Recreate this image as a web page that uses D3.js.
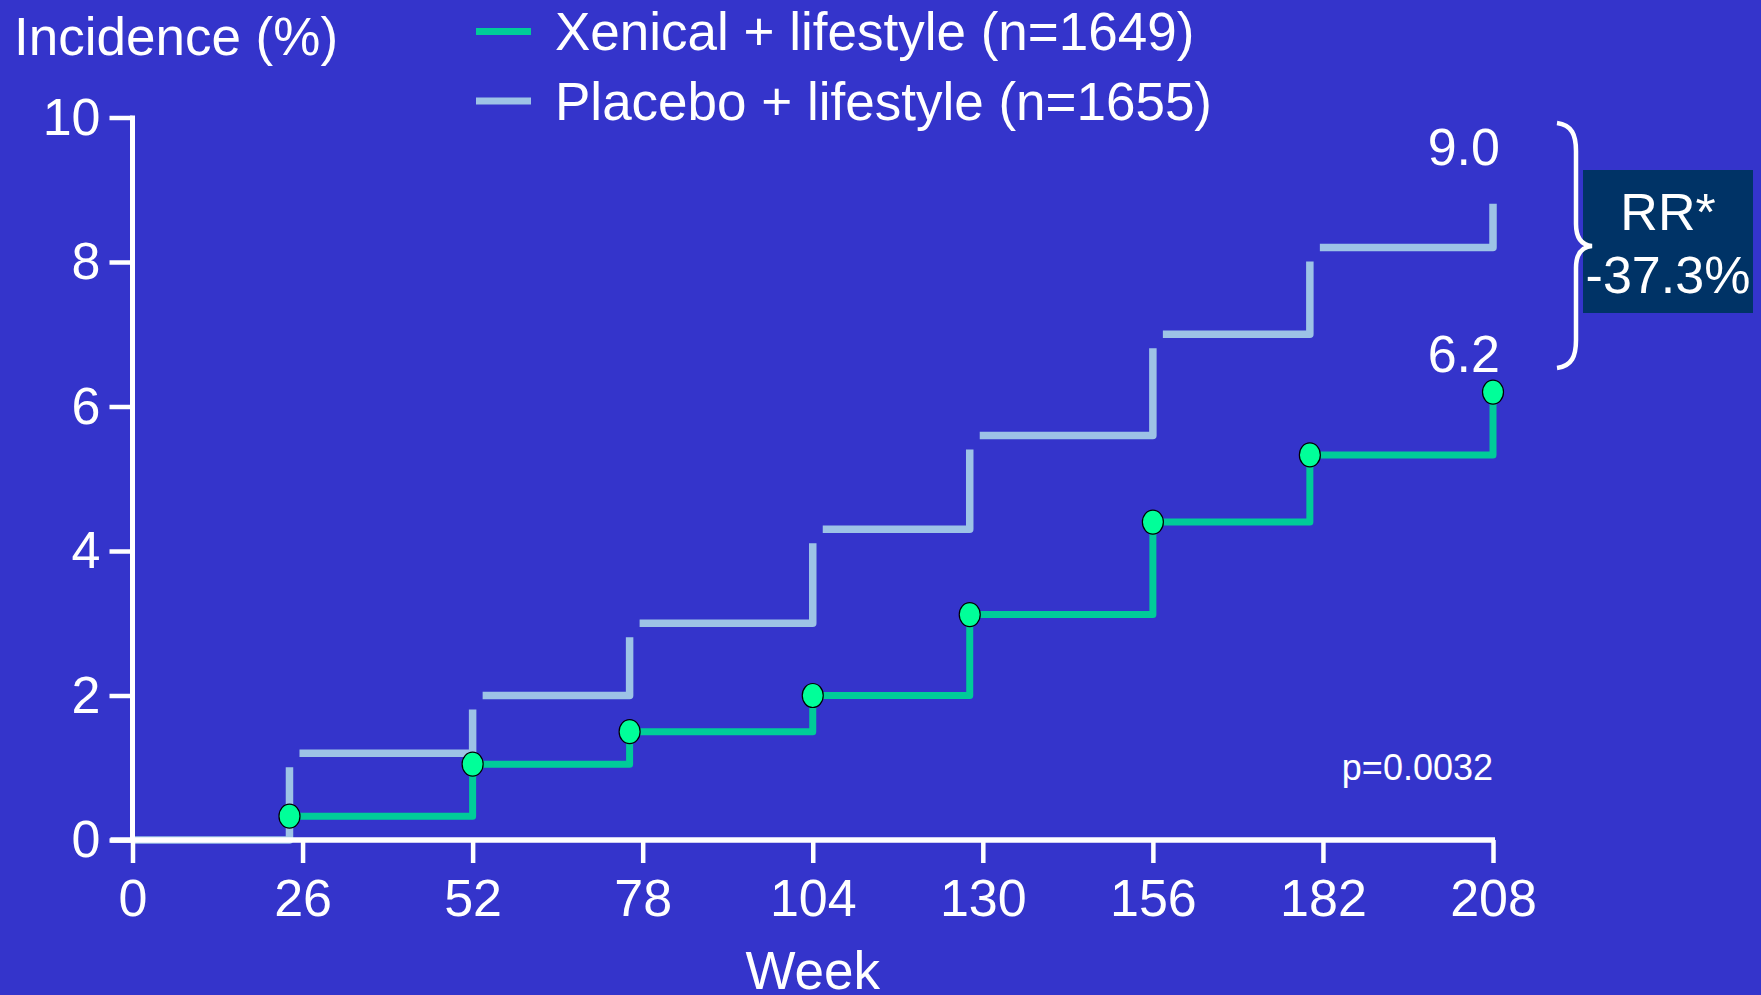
<!DOCTYPE html>
<html>
<head>
<meta charset="utf-8">
<script src="https://cdn.jsdelivr.net/npm/d3@7"></script>
<style>
  html, body { margin: 0; padding: 0; background: #3434cb; }
  svg { display: block; }
  text { font-family: "Liberation Sans", Arial, sans-serif; fill: #fff; }
</style>
</head>
<body>
<svg id="chart" width="1761" height="995"></svg>
<script>
// Cumulative incidence of type 2 diabetes by week
const weekTicks = [0, 26, 52, 78, 104, 130, 156, 182, 208];
const incidenceTicks = [0, 2, 4, 6, 8, 10];

const placeboWeeks  = [0, 24, 52, 76, 104, 128, 156, 180, 208];
const placeboValues = [0, 1.2, 2.0, 3.0, 4.3, 5.6, 7.0, 8.2, 9.0];

const xenicalWeeks  = [24, 52, 76, 104, 128, 156, 180, 208];
const xenicalValues = [0.33, 1.05, 1.5, 2.0, 3.12, 4.4, 5.33, 6.2];

const seriesNames = ["Xenical + lifestyle (n=1649)", "Placebo + lifestyle (n=1655)"];
const seriesColors = ["#00cc99", "#9dc3e6"];

const relativeRisk = ["RR*", "-37.3%"];
const pValue = "p=0.0032";

const svg = d3.select("#chart");
const W = 1761, H = 995;

svg.append("rect").attr("width", W).attr("height", H).attr("fill", "#3434cb");

const x = d3.scaleLinear().domain([0, 208]).range([132.5, 1493]);
const y = d3.scaleLinear().domain([0, 10]).range([840, 117.5]);

// Placebo: broken step segments (each tread joined to its riser only)
const hGap = 10, vGap = 14;
const placeboPieces = d3.range(placeboWeeks.length - 1).map(i => ({
  x0: x(placeboWeeks[i]) + (i > 0 ? hGap : 0),
  y0: y(placeboValues[i]),
  x1: x(placeboWeeks[i + 1]),
  y1: y(placeboValues[i + 1]) + vGap
}));
svg.append("g").selectAll("path").data(placeboPieces).join("path")
  .attr("d", d => `M${d.x0},${d.y0}H${d.x1}V${d.y1}`)
  .attr("fill", "none")
  .attr("stroke", seriesColors[1])
  .attr("stroke-width", 7.5)
  .attr("stroke-linejoin", "round");

// Xenical: step curve with a marker at each step
const xenical = xenicalWeeks.map((w, i) => ({ w, v: xenicalValues[i] }));
const stepLine = d3.line().x(d => x(d.w)).y(d => y(d.v)).curve(d3.curveStepAfter);
svg.append("path")
  .datum(xenical)
  .attr("d", stepLine)
  .attr("fill", "none")
  .attr("stroke", seriesColors[0])
  .attr("stroke-width", 7)
  .attr("stroke-linejoin", "round");

svg.append("g").selectAll("ellipse").data(xenical).join("ellipse")
  .attr("cx", d => x(d.w))
  .attr("cy", d => y(d.v))
  .attr("rx", 10.5)
  .attr("ry", 12)
  .attr("fill", "#00ff99")
  .attr("stroke", "#000")
  .attr("stroke-width", 1.2);

// Axes
const axisColor = "#fff";
const xAxis = d3.axisBottom(x).tickValues(weekTicks).tickSize(23).tickSizeOuter(0).tickPadding(16);
const gx = svg.append("g").attr("transform", `translate(0,${y(0)})`).call(xAxis);
gx.select(".domain").remove();
gx.selectAll(".tick line").attr("stroke", axisColor).attr("stroke-width", 4.5);
gx.selectAll(".tick text").attr("font-size", 52).attr("fill", "#fff")
  .attr("font-family", "'Liberation Sans', Arial, sans-serif");

const yAxis = d3.axisLeft(y).tickValues(incidenceTicks).tickSize(23).tickSizeOuter(0).tickPadding(9);
const gy = svg.append("g").attr("transform", `translate(${x(0)},0)`).call(yAxis);
gy.select(".domain").remove();
gy.selectAll(".tick line").attr("stroke", axisColor).attr("stroke-width", 4.5);
gy.selectAll(".tick text").attr("font-size", 52).attr("fill", "#fff")
  .attr("font-family", "'Liberation Sans', Arial, sans-serif");

svg.append("line")
  .attr("x1", x(0) - 22).attr("x2", x(208) + 2)
  .attr("y1", y(0)).attr("y2", y(0))
  .attr("stroke", axisColor).attr("stroke-width", 5.5);
svg.append("line")
  .attr("x1", x(0)).attr("x2", x(0))
  .attr("y1", y(0)).attr("y2", y(10) - 2)
  .attr("stroke", axisColor).attr("stroke-width", 5);

// Axis titles
svg.append("text").attr("x", 14).attr("y", 55).attr("font-size", 53).text("Incidence (%)");
svg.append("text").attr("x", x(104)).attr("y", 989).attr("text-anchor", "middle")
  .attr("font-size", 53).text("Week");

// Legend
const legend = svg.append("g").selectAll("g").data(seriesNames).join("g")
  .attr("transform", (d, i) => `translate(476,${31.5 + i * 69.5})`);
legend.append("line").attr("x1", 0).attr("x2", 55).attr("y1", 0).attr("y2", 0)
  .attr("stroke", (d, i) => seriesColors[i]).attr("stroke-width", 7);
legend.append("text").attr("x", 79).attr("y", 18.5).attr("font-size", 53).text(d => d);

// End values
const lastP = placeboValues[placeboValues.length - 1];
const lastX = xenicalValues[xenicalValues.length - 1];
svg.append("text").attr("x", 1500).attr("y", y(lastP) - 25).attr("text-anchor", "end")
  .attr("font-size", 52).text(lastP.toFixed(1));
svg.append("text").attr("x", 1500).attr("y", y(lastX) - 20).attr("text-anchor", "end")
  .attr("font-size", 52).text(lastX.toFixed(1));

// p value
svg.append("text").attr("x", 1493).attr("y", 780).attr("text-anchor", "end")
  .attr("font-size", 36).text(pValue);

// Relative risk box
svg.append("rect").attr("x", 1583).attr("y", 170).attr("width", 170).attr("height", 143)
  .attr("fill", "#003366");
svg.append("g").selectAll("text").data(relativeRisk).join("text")
  .attr("x", 1668).attr("y", (d, i) => 230 + i * 63)
  .attr("text-anchor", "middle").attr("font-size", 52).text(d => d);

// Curly brace spanning the two end values
const bTop = 123, bBot = 368, bMid = 246, bx = 1557, sx = 1576, tip = 1592;
svg.append("path")
  .attr("d", `M${bx},${bTop} C${bx + 15},${bTop + 2} ${sx},${bTop + 12} ${sx},${bTop + 28}
              L${sx},${bMid - 22} C${sx},${bMid - 9} ${sx + 5},${bMid - 1} ${tip},${bMid}
              C${sx + 5},${bMid + 1} ${sx},${bMid + 9} ${sx},${bMid + 22}
              L${sx},${bBot - 28} C${sx},${bBot - 12} ${bx + 15},${bBot - 2} ${bx},${bBot}`)
  .attr("fill", "none").attr("stroke", "#fff").attr("stroke-width", 4.5);
</script>
</body>
</html>
